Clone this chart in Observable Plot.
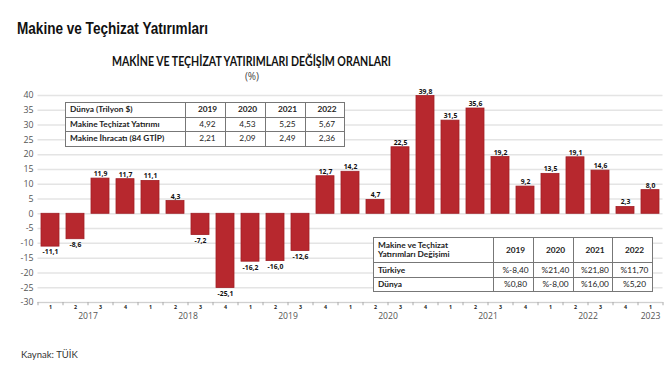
<!DOCTYPE html>
<html><head><meta charset="utf-8">
<script src="https://cdn.jsdelivr.net/npm/d3@7"></script>
<script src="https://cdn.jsdelivr.net/npm/@observablehq/plot@0.6"></script>
<style>
body{margin:0;background:#fff;}
#wrap{position:relative;width:669px;height:376px;overflow:hidden;font-family:Lato,"Open Sans",sans-serif;background:#fff;}
.fit{position:absolute;white-space:nowrap;transform-origin:0 0;display:inline-block;line-height:1;}
#title{left:17px;top:19px;font:bold 16.5px "Liberation Sans Narrow","Liberation Sans",Arial,sans-serif;color:#111;}
#ctitle{left:112px;top:54px;font:bold 12.5px Lato,"Open Sans",sans-serif;color:#111;}
#unit{position:absolute;left:0;width:504px;top:71px;text-align:center;font:10px/10px "Open Sans",sans-serif;color:#444;}
#chart{position:absolute;left:0;top:80px;}
#caption{position:absolute;left:21px;top:349px;font:9.5px Lato,"Open Sans",sans-serif;color:#333;}
table.t{position:absolute;border-collapse:collapse;table-layout:fixed;background:#fff;border:1.5px solid #555;font-family:Lato,"Open Sans",sans-serif;font-size:8.3px;color:#222;}
table.t td{border:1px solid #777;padding:0 0 0 4px;text-align:center;line-height:1.05;overflow:hidden;white-space:nowrap;}
table.t td.l{text-align:left;font-weight:bold;}
table.t td.h{font-weight:bold;}
</style></head>
<body>
<div id="wrap">
  <div id="title" class="fit">Makine ve Teçhizat Yatırımları</div>
  <div id="ctitle" class="fit">MAKİNE VE TEÇHİZAT YATIRIMLARI DEĞİŞİM ORANLARI</div>
  <div id="unit">(%)</div>
  <div id="chart"></div>
  <div id="caption">Kaynak: TÜİK</div>
</div>
<script>
// ---- data ----
const periods = ["2017-1","2017-2","2017-3","2017-4","2018-1","2018-2","2018-3","2018-4",
  "2019-1","2019-2","2019-3","2019-4","2020-1","2020-2","2020-3","2020-4",
  "2021-1","2021-2","2021-3","2021-4","2022-1","2022-2","2022-3","2022-4","2023-1"];
const changes = [-11.1,-8.6,11.9,11.7, 11.1,4.3,-7.2,-25.1, -16.2,-16.0,-12.6,12.7,
  14.2,4.7,22.5,39.8, 31.5,35.6,19.2,9.2, 13.5,19.1,14.6,2.3, 8.0];
const yearLabels = ["2017","2018","2019","2020","2021","2022","2023"];

// Top-left table (Dünya, trilyon $)
const worldYears = ["2019","2020","2021","2022"];
const worldHeader = "Dünya (Trilyon $)";
const worldRowNames = ["Makine Teçhizat Yatırımı","Makine İhracatı (84 GTİP)"];
const worldInvest = ["4,92","4,53","5,25","5,67"];
const worldExport = ["2,21","2,09","2,49","2,36"];

// Bottom-right table (değişim)
const chgHeader = "Makine ve Teçhizat<br>Yatırımları Değişimi";
const chgYears = ["2019","2020","2021","2022"];
const chgRowNames = ["Türkiye","Dünya"];
const chgTurkey = ["%-8,40","%21,40","%21,80","%11,70"];
const chgWorld = ["%0,80","%-8,00","%16,00","%5,20"];

const data = periods.map((p,i)=>({key:p, year:p.split("-")[0], q:p.split("-")[1], v:changes[i]}));
const fmt = v => v.toFixed(1).replace(".", ",");
const yMin = -30;

const axisFont = "Open Sans, sans-serif";
const chart = Plot.plot({
  width:669, height:245,
  marginTop:15, marginBottom:23, marginLeft:37.5, marginRight:6.5,
  style:{fontFamily:axisFont, background:"transparent"},
  x:{type:"band", domain:periods, paddingInner:0.28, paddingOuter:0.14, axis:null},
  y:{domain:[-30,40], axis:null},
  marks:[
    Plot.gridY({interval:5, stroke:"#e4e4e4", strokeOpacity:1, strokeWidth:1.5}),
    Plot.axisY({interval:5, tickSize:0, tickPadding:4.5, fontSize:8.8, fill:"#555", label:null, fontFamily:axisFont, tickFormat:d=>String(d)}),
    Plot.ruleY([yMin], {stroke:"#d0d0d0", strokeWidth:1.2}),
    Plot.ruleX(periods, {x:d=>d, dx:-12.5, y1:yMin, y2:yMin-1.1, stroke:"#aaa"}),
    Plot.ruleX(periods.slice(-1), {x:d=>d, dx:12.5, y1:yMin, y2:yMin-1.1, stroke:"#aaa"}),
    Plot.barY(data, {x:"key", y:"v", fill:"#b7282e", stroke:"#a21e25", strokeWidth:0.8}),
    Plot.text(data, {x:"key", y:()=>yMin, text:"q", dy:4.5, lineAnchor:"middle", fontSize:5.3, fontWeight:"bold", fill:"#222", fontFamily:axisFont}),
    Plot.text(yearLabels.filter(y=>periods.includes(y+"-4")), {x:y=>y+"-2", y:()=>yMin, text:d=>d, dx:12.5, dy:14, fontSize:8.6, fill:"#555", fontFamily:axisFont}),
    Plot.text(yearLabels.filter(y=>!periods.includes(y+"-4")), {x:y=>y+"-1", y:()=>yMin, text:d=>d, dy:14, fontSize:8.6, fill:"#555", fontFamily:axisFont}),
    Plot.text(data.filter(d=>d.v>=0), {x:"key", y:"v", text:d=>fmt(d.v), lineAnchor:"bottom", dy:-2.5, fontSize:6.8, fontWeight:"bold", fill:"#111", fontFamily:axisFont}),
    Plot.text(data.filter(d=>d.v<0), {x:"key", y:"v", text:d=>fmt(d.v), lineAnchor:"top", dy:3, fontSize:6.8, fontWeight:"bold", fill:"#111", fontFamily:axisFont})
  ]
});
document.getElementById("chart").appendChild(chart);

// tables
function makeTable(left, top, colW, rowH, rows){
  const t = document.createElement("table");
  t.className = "t";
  t.style.left = left+"px"; t.style.top = top+"px";
  const cg = document.createElement("colgroup");
  colW.forEach(w=>{const c=document.createElement("col"); c.style.width=w+"px"; cg.appendChild(c);});
  t.appendChild(cg);
  rows.forEach((r,i)=>{
    const tr = document.createElement("tr");
    tr.style.height = rowH[i]+"px";
    r.forEach((cell,j)=>{
      const td = document.createElement("td");
      td.innerHTML = cell;
      if(j===0) td.className="l"; else if(i===0) td.className="h";
      tr.appendChild(td);
    });
    t.appendChild(tr);
  });
  document.getElementById("wrap").appendChild(t);
}
makeTable(65, 102, [120,40,40,40,39], [14.5,14.5,14.5],
  [[worldHeader,...worldYears],[worldRowNames[0],...worldInvest],[worldRowNames[1],...worldExport]]);
makeTable(373, 237, [120,40,40,39,40], [25,15,14],
  [[chgHeader,...chgYears],[chgRowNames[0],...chgTurkey],[chgRowNames[1],...chgWorld]]);

// fit titles to reference widths
function fit(id, w){
  const el = document.getElementById(id);
  const r = el.getBoundingClientRect().width;
  el.style.transform = "scaleX(" + (w/r) + ")";
}
fit("title", 191);
fit("ctitle", 279);
</script>
</body></html>
